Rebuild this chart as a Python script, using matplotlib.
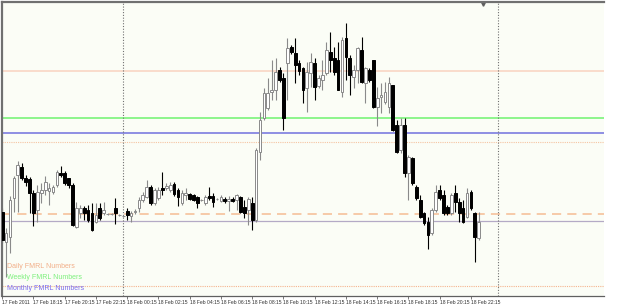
import numpy as np
import matplotlib
matplotlib.use("Agg")
import matplotlib.pyplot as plt

# M15 bars, 17 Feb 2011 16:15 .. 18 Feb 22:45, prices in 1/10000
opens = [13588, 13558, 13563, 13602, 13625, 13633, 13622, 13621, 13607, 13590,
         13607, 13610, 13609, 13608, 13615, 13627, 13627, 13622, 13615, 13573,
         13587, 13592, 13590, 13587, 13578, 13592, 13587, 13586, 13586, 13592,
         13585, 13584, 13589, 13584, 13588, 13592, 13600, 13603, 13613, 13597,
         13602, 13612, 13612, 13610, 13616, 13610, 13597, 13605, 13606, 13605,
         13603, 13600, 13597, 13604, 13604, 13601, 13599, 13601, 13599, 13601,
         13600, 13603, 13593, 13590, 13597, 13580, 13648, 13682, 13692, 13708,
         13710, 13730, 13722, 13737, 13753, 13747, 13737, 13732, 13712, 13727,
         13737, 13714, 13720, 13727, 13748, 13742, 13740, 13708, 13762, 13742,
         13723, 13730, 13750, 13717, 13730, 13740, 13693, 13703, 13698, 13693,
         13715, 13675, 13650, 13675, 13627, 13642, 13613, 13600, 13587, 13578,
         13567, 13590, 13610, 13605, 13593, 13587, 13607, 13598, 13592, 13583,
         13608, 13587, 13562]
highs = [13592, 13572, 13604, 13624, 13639, 13637, 13625, 13623, 13610, 13615,
         13617, 13624, 13617, 13615, 13630, 13634, 13629, 13622, 13617, 13598,
         13595, 13594, 13595, 13597, 13597, 13597, 13598, 13587, 13587, 13602,
         13586, 13585, 13592, 13589, 13591, 13603, 13608, 13620, 13615, 13612,
         13613, 13628, 13617, 13618, 13618, 13612, 13610, 13612, 13607, 13606,
         13604, 13601, 13605, 13613, 13607, 13602, 13605, 13603, 13604, 13603,
         13606, 13604, 13600, 13603, 13603, 13652, 13688, 13712, 13722, 13740,
         13742, 13733, 13727, 13762, 13755, 13762, 13740, 13733, 13738, 13747,
         13742, 13725, 13740, 13758, 13768, 13753, 13758, 13763, 13777, 13745,
         13735, 13753, 13763, 13733, 13732, 13740, 13713, 13717, 13718, 13723,
         13715, 13680, 13682, 13682, 13645, 13643, 13615, 13605, 13588, 13583,
         13592, 13615, 13615, 13610, 13595, 13607, 13615, 13602, 13600, 13612,
         13610, 13588, 13588]
lows = [13557, 13523, 13547, 13588, 13588, 13620, 13614, 13587, 13574, 13578,
        13597, 13605, 13595, 13606, 13613, 13623, 13615, 13612, 13574, 13572,
        13582, 13580, 13578, 13569, 13577, 13580, 13585, 13585, 13585, 13576,
        13584, 13583, 13580, 13578, 13586, 13588, 13598, 13602, 13595, 13595,
        13600, 13605, 13610, 13608, 13604, 13594, 13595, 13600, 13600, 13599,
        13592, 13599, 13595, 13600, 13593, 13600, 13598, 13597, 13589, 13598,
        13590, 13587, 13582, 13575, 13570, 13578, 13640, 13680, 13690, 13700,
        13700, 13718, 13670, 13700, 13746, 13717, 13725, 13697, 13688, 13713,
        13700, 13712, 13710, 13725, 13728, 13725, 13710, 13703, 13720, 13705,
        13712, 13717, 13717, 13697, 13718, 13692, 13674, 13687, 13696, 13687,
        13669, 13647, 13647, 13623, 13600, 13615, 13600, 13582, 13575, 13551,
        13565, 13588, 13600, 13585, 13585, 13585, 13588, 13578, 13577, 13582,
        13590, 13538, 13560]
closes = [13560, 13567, 13600, 13622, 13635, 13622, 13618, 13607, 13587, 13608,
          13610, 13618, 13612, 13613, 13628, 13625, 13617, 13615, 13575, 13592,
          13592, 13587, 13580, 13570, 13585, 13582, 13590, 13586, 13586, 13587,
          13585, 13584, 13585, 13587, 13589, 13600, 13605, 13613, 13597, 13610,
          13610, 13610, 13614, 13615, 13606, 13603, 13607, 13607, 13601, 13600,
          13597, 13600, 13603, 13602, 13598, 13601, 13603, 13599, 13601, 13599,
          13605, 13588, 13587, 13601, 13580, 13650, 13680, 13707, 13707, 13710,
          13728, 13720, 13682, 13752, 13748, 13735, 13729, 13710, 13728, 13738,
          13713, 13722, 13725, 13750, 13740, 13728, 13710, 13760, 13743, 13725,
          13730, 13752, 13718, 13732, 13720, 13693, 13702, 13705, 13708, 13717,
          13670, 13648, 13675, 13627, 13643, 13617, 13602, 13583, 13577, 13565,
          13590, 13608, 13602, 13587, 13587, 13605, 13598, 13587, 13578, 13607,
          13592, 13563, 13578]

# FMRL levels (price * 10000) and their styles
level_prices = [13729, 13682, 13667, 13658, 13586, 13579, 13514]
level_colors = ["#f9dccb", "#8cf58c", "#7c7ce0", "#f5c4a2", "#f5bc94", "#b4aac6", "#f5b48e"]
level_styles = ["-", "-", "-", (0, (1, 1)), (0, (6, 4)), "-", (0, (1, 1))]
level_widths = [1.4, 1.4, 1.2, 0.8, 1.1, 0.9, 0.8]

tick_bars = list(range(0, 121, 8))
tick_labels = ["17 Feb 2011", "17 Feb 18:15", "17 Feb 20:15", "17 Feb 22:15",
               "18 Feb 00:15", "18 Feb 02:15", "18 Feb 04:15", "18 Feb 06:15",
               "18 Feb 08:15", "18 Feb 10:15", "18 Feb 12:15", "18 Feb 14:15",
               "18 Feb 16:15", "18 Feb 18:15", "18 Feb 20:15", "18 Feb 22:15"]
day_separators = [31, 127]

legend_names = ["Daily FMRL Numbers", "Weekly FMRL Numbers", "Monthly FMRL Numbers"]
legend_colors = ["#f2ae88", "#7cf07c", "#7a6cf0"]


o = np.array(opens) / 1e4
h = np.array(highs) / 1e4
l = np.array(lows) / 1e4
c = np.array(closes) / 1e4
x = np.arange(len(o))
bull = c >= o

fig = plt.figure(figsize=(6.25, 3.07), dpi=100, facecolor="white")
ax = fig.add_axes([2 / 625, 11 / 307, 602 / 625, 294 / 307])
ax.set_facecolor("#fbfdf6")

for p, col, ls, lw in zip(level_prices, level_colors, level_styles, level_widths):
    ax.axhline(p / 1e4, color=col, linestyle=ls, linewidth=lw, zorder=1)

for d in day_separators:
    ax.axvline(d, color="#707070", linestyle=(0, (1, 1.5)), linewidth=0.8, zorder=1)

wick_cols = np.where(bull, "#8a8a8a", "#000000")
ax.vlines(x, l, h, colors=wick_cols, linewidth=0.8, zorder=2)
ax.bar(x[bull], (c - o)[bull], bottom=o[bull], width=0.7,
       color="white", edgecolor="#8a8a8a", linewidth=0.7, zorder=3)
ax.bar(x[~bull], (c - o)[~bull], bottom=o[~bull], width=0.7,
       color="black", edgecolor="black", linewidth=0.7, zorder=3)

ax.set_xlim(-0.05, 154.07)
ax.set_ylim(1.3504, 1.3798)

ax.set_yticks([])
ax.set_xticks(tick_bars)
ax.set_xticklabels(tick_labels, ha="left", fontsize=3.6, family="Liberation Sans", color="#303030")
ax.tick_params(axis="x", length=2, width=0.6, color="#606060", pad=1)

for side in ["top", "left"]:
    ax.spines[side].set_color("#707070")
    ax.spines[side].set_linewidth(1.6)
ax.spines["bottom"].set_color("#606060")
ax.spines["bottom"].set_linewidth(0.9)
ax.spines["right"].set_visible(False)

for k, (name, col) in enumerate(zip(legend_names, legend_colors)):
    ax.text(0.009, 0.102 - k * 0.038, name, transform=ax.transAxes, fontsize=5,
            family="Liberation Sans", color=col, va="center", ha="left")

# chart-shift marker at top
ax.plot([0.799], [0.992], marker="v", markersize=2.5, color="#606060",
        transform=ax.transAxes, clip_on=False)

fig.savefig("out.png", dpi=100, facecolor=fig.get_facecolor())
